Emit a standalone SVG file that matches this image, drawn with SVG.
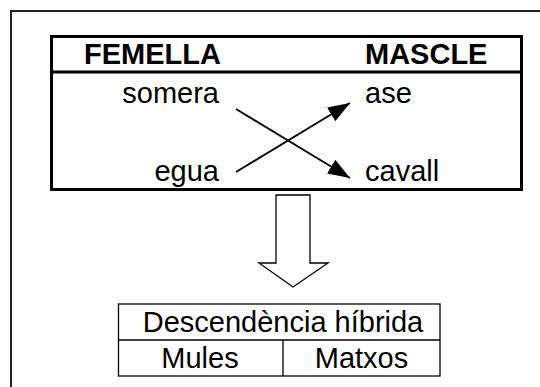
<svg xmlns="http://www.w3.org/2000/svg" width="540" height="387" viewBox="0 0 540 387">
<style>
text{font-family:"Liberation Sans",Arial,sans-serif;font-size:29px;fill:#000}
.b{font-weight:bold}
.box{fill:none;stroke:#000;stroke-width:3}
.thin{fill:none;stroke:#000;stroke-width:1.3}
.ln{stroke:#000;stroke-width:1.8;fill:none}
</style>
<defs>
<marker id="ah" viewBox="0 0 22 16" refX="22" refY="8" markerWidth="22" markerHeight="16" markerUnits="userSpaceOnUse" orient="auto">
<path d="M0,0 L22,8 L0,16 Z" fill="#000"/>
</marker>
</defs>
<rect width="540" height="387" fill="#fff"/>
<path d="M11,387 V11 H540" fill="none" stroke="#222" stroke-width="2"/>
<g id="parents">
<rect class="box" x="51.5" y="36.5" width="470" height="153"/>
<line class="box" x1="51.5" y1="72" x2="521.5" y2="72"/>
<text class="b" x="84" y="64">FEMELLA</text>
<text class="b" x="365" y="64">MASCLE</text>
</g>
<g id="somera"><text x="219" y="103" text-anchor="end">somera</text></g>
<g id="egua"><text x="219" y="181" text-anchor="end">egua</text></g>
<g id="ase"><text x="365" y="103">ase</text></g>
<g id="cavall"><text x="365" y="181">cavall</text></g>
<g id="connectors">
<line class="ln" x1="236" y1="109" x2="350" y2="178" marker-end="url(#ah)"/>
<line class="ln" x1="236" y1="172" x2="350" y2="103" marker-end="url(#ah)"/>
<path id="down" d="M276,195 H310 V263 H328 L293,287 L259,263 H276 Z" fill="#fff" stroke="#000" stroke-width="1.3" stroke-linejoin="miter"/>
</g>
<g id="offspring">
<rect class="thin" x="118.5" y="304" width="321.5" height="72"/>
<line class="thin" x1="118.5" y1="340" x2="440" y2="340"/>
<line class="thin" x1="283" y1="340" x2="283" y2="376"/>
<text x="283" y="332" text-anchor="middle">Descendència híbrida</text>
<text x="200" y="368" text-anchor="middle">Mules</text>
<text x="361.5" y="368" text-anchor="middle">Matxos</text>
</g>
</svg>
